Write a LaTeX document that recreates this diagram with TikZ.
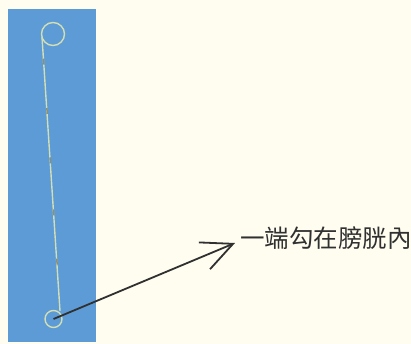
\documentclass[tikz,border=0pt]{standalone}
\usepackage{fontspec}
\newfontfamily\cjk{Noto Sans CJK TC}
\usepackage{tikz}
\usetikzlibrary{arrows.meta, calc}
\definecolor{paper}{RGB}{255,253,240}
\definecolor{strip}{RGB}{92,155,214}
\definecolor{tube}{RGB}{210,222,180}
\definecolor{ink}{RGB}{48,48,48}
\tikzstyle{stent} = [draw=tube, line width=1.4pt]
\tikzstyle{tick} = [draw=ink!45!tube, line width=1.5pt]
\tikzstyle{label} = [inner sep=0pt, anchor=west, text=ink, font=\cjk\fontsize{24.5}{24.5}\selectfont]
\tikzstyle{arrow} = [draw=ink, line width=1.8pt, -{Straight Barb[length=31pt, width=29pt, line width=1.8pt]}]

\begin{document}
\begin{tikzpicture}[x=1pt, y=-1pt]
  % 底色与蓝色背景条
  \fill[paper] (0,0) rectangle (411,344);
  \useasboundingbox (0,0) rectangle (411,344);
  \fill[strip] (8,9) rectangle (96,342);

  % 导管两端的圈和中间的管身
  \coordinate (tophook) at (53,34);
  \coordinate (lowhook) at (53.5,319);
  \coordinate (shafttop) at (42,37);
  \coordinate (shaftbot) at (60,311);
  \draw[stent] (tophook) circle[radius=11.5];
  \draw[stent] (lowhook) circle[radius=8.5];
  \draw[stent] (shafttop) -- (shaftbot);
  \foreach \t in {0.09, 0.27, 0.45, 0.64, 0.82}
    \draw[tick] ($(shafttop)!\t!(shaftbot)$) ++(0,-3) -- ++(0.4,6);

  % 文字说明和箭头
  \node (hint) [label] at (240,238) {一端勾在膀胱內};
  \draw[arrow] (lowhook) -- ([xshift=-5pt, yshift=-5pt]hint.west);
\end{tikzpicture}
\end{document}
